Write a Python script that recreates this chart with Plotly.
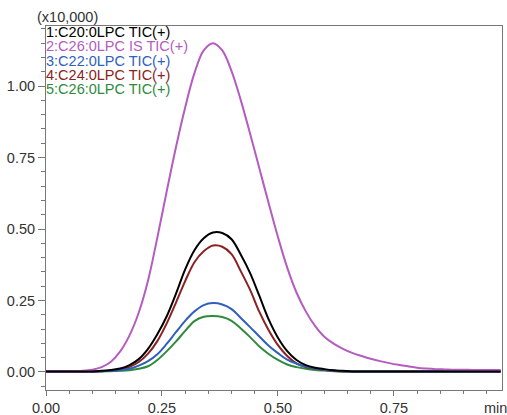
import plotly.graph_objects as go

# Retention time grid (min)
time_min = [0.00, 0.02, 0.04, 0.06, 0.08, 0.10, 0.12, 0.14, 0.16, 0.18,
            0.20, 0.22, 0.24, 0.26, 0.28, 0.30, 0.32, 0.34, 0.36, 0.38,
            0.40, 0.42, 0.44, 0.46, 0.48, 0.50, 0.52, 0.54, 0.56, 0.58,
            0.60, 0.62, 0.64, 0.66, 0.68, 0.70, 0.72, 0.74, 0.76, 0.78,
            0.80, 0.82, 0.84, 0.86, 0.88, 0.90, 0.92, 0.94, 0.96, 0.98]

# Intensities (x10,000)
c20_tic = [0.002, 0.002, 0.002, 0.002, 0.002, 0.002, 0.004, 0.007, 0.012, 0.024,
           0.045, 0.081, 0.132, 0.194, 0.273, 0.359, 0.426, 0.468, 0.488, 0.486,
           0.464, 0.410, 0.346, 0.266, 0.184, 0.120, 0.073, 0.042, 0.024, 0.015,
           0.010, 0.006, 0.004, 0.002, 0.002, 0.002, 0.002, 0.002, 0.002, 0.002,
           0.002, 0.002, 0.002, 0.002, 0.002, 0.002, 0.002, 0.002, 0.002, 0.002]

c26_is_tic = [0.003, 0.003, 0.003, 0.003, 0.004, 0.008, 0.017, 0.036, 0.072, 0.128,
              0.208, 0.320, 0.470, 0.630, 0.785, 0.925, 1.045, 1.125, 1.150, 1.125,
              1.052, 0.950, 0.833, 0.712, 0.590, 0.472, 0.365, 0.278, 0.212, 0.161,
              0.123, 0.099, 0.081, 0.067, 0.056, 0.046, 0.038, 0.031, 0.025, 0.020,
              0.015, 0.012, 0.010, 0.009, 0.008, 0.008, 0.007, 0.007, 0.007, 0.007]

c22_tic = [0.002, 0.002, 0.002, 0.002, 0.002, 0.002, 0.003, 0.004, 0.006, 0.011,
           0.022, 0.038, 0.062, 0.098, 0.139, 0.179, 0.212, 0.234, 0.241, 0.236,
           0.220, 0.189, 0.157, 0.124, 0.092, 0.066, 0.043, 0.029, 0.019, 0.012,
           0.008, 0.005, 0.002, 0.002, 0.002, 0.002, 0.002, 0.002, 0.002, 0.002,
           0.002, 0.002, 0.002, 0.002, 0.002, 0.002, 0.002, 0.002, 0.002, 0.002]

c24_tic = [0.002, 0.002, 0.002, 0.002, 0.002, 0.002, 0.003, 0.005, 0.009, 0.018,
           0.035, 0.064, 0.108, 0.169, 0.242, 0.318, 0.384, 0.422, 0.442, 0.438,
           0.412, 0.352, 0.287, 0.210, 0.146, 0.094, 0.056, 0.030, 0.017, 0.011,
           0.007, 0.004, 0.002, 0.002, 0.002, 0.002, 0.002, 0.002, 0.002, 0.002,
           0.002, 0.002, 0.002, 0.002, 0.002, 0.002, 0.002, 0.002, 0.002, 0.002]

c26_tic = [0.002, 0.002, 0.002, 0.002, 0.002, 0.002, 0.002, 0.003, 0.004, 0.006,
           0.011, 0.020, 0.042, 0.072, 0.106, 0.144, 0.178, 0.193, 0.196, 0.192,
           0.179, 0.152, 0.122, 0.089, 0.063, 0.042, 0.026, 0.017, 0.011, 0.007,
           0.005, 0.003, 0.002, 0.002, 0.002, 0.002, 0.002, 0.002, 0.002, 0.002,
           0.002, 0.002, 0.002, 0.002, 0.002, 0.002, 0.002, 0.002, 0.002, 0.002]

series_labels = ["1:C20:0LPC TIC(+)", "2:C26:0LPC IS TIC(+)", "3:C22:0LPC TIC(+)",
                 "4:C24:0LPC TIC(+)", "5:C26:0LPC TIC(+)"]
series_values = [c20_tic, c26_is_tic, c22_tic, c24_tic, c26_tic]
series_colors = ["#000000", "#B45CC0", "#2F5FBF", "#8B2222", "#2E8B3C"]

x_tickvals = [0.00, 0.25, 0.50, 0.75]
x_ticktext = ["0.00", "0.25", "0.50", "0.75"]
y_tickvals = [0.00, 0.25, 0.50, 0.75, 1.00]
y_ticktext = ["0.00", "0.25", "0.50", "0.75", "1.00"]

FONT = "Arial, Liberation Sans, sans-serif"
FS = 14.5
AXIS_COLOR = "#777777"
TEXT_COLOR = "#333333"

fig = go.Figure()
# draw in reverse so trace 1 is on top
for label, vals, col in reversed(list(zip(series_labels, series_values, series_colors))):
    fig.add_trace(go.Scatter(x=time_min, y=vals, mode="lines", name=label,
                             line=dict(color=col, width=2), line_shape="spline",
                             hoverinfo="skip"))

legend_y = [0.9835, 0.9437, 0.9038, 0.8654, 0.8269]
for label, col, yy in zip(series_labels, series_colors, legend_y):
    fig.add_annotation(text=label, xref="paper", yref="paper", x=-0.004, y=yy,
                       xanchor="left", yanchor="middle", showarrow=False,
                       font=dict(family=FONT, size=FS, color=col))

fig.add_annotation(text="(x10,000)", xref="paper", yref="paper", x=0.048, y=1.026,
                   xanchor="center", yanchor="middle", showarrow=False,
                   font=dict(family=FONT, size=FS, color=TEXT_COLOR))
fig.add_annotation(text="min", xref="paper", yref="paper", x=0.985, y=-0.05,
                   xanchor="center", yanchor="middle", showarrow=False,
                   font=dict(family=FONT, size=FS, color=TEXT_COLOR))

fig.update_layout(
    width=507, height=415,
    margin=dict(l=46, r=5, t=26, b=25, autoexpand=False),
    paper_bgcolor="white", plot_bgcolor="white",
    showlegend=False,
    font=dict(family=FONT, size=FS, color=TEXT_COLOR),
)
fig.update_xaxes(range=[0, 0.983], showgrid=False, zeroline=False, automargin=False,
                 showline=True, linecolor=AXIS_COLOR, linewidth=1, mirror=True,
                 ticks="outside", ticklen=5, tickcolor=AXIS_COLOR,
                 tickvals=x_tickvals, ticktext=x_ticktext,
                 minor=dict(dtick=0.05, tick0=0, ticks="outside", ticklen=3,
                            tickcolor=AXIS_COLOR, showgrid=False),
                 tickfont=dict(family=FONT, size=FS, color=TEXT_COLOR))
fig.update_yaxes(range=[-0.063, 1.21], showgrid=False, zeroline=False, automargin=False,
                 showline=True, linecolor=AXIS_COLOR, linewidth=1, mirror=True,
                 ticks="outside", ticklen=7, tickcolor=AXIS_COLOR,
                 tickvals=y_tickvals, ticktext=y_ticktext,
                 minor=dict(dtick=0.05, tick0=0, ticks="outside", ticklen=4,
                            tickcolor=AXIS_COLOR, showgrid=False),
                 tickfont=dict(family=FONT, size=FS, color=TEXT_COLOR))

fig.write_html("out.html", config={"displayModeBar": False},
               post_script="document.body.style.margin='0';document.body.style.overflow='hidden';")
